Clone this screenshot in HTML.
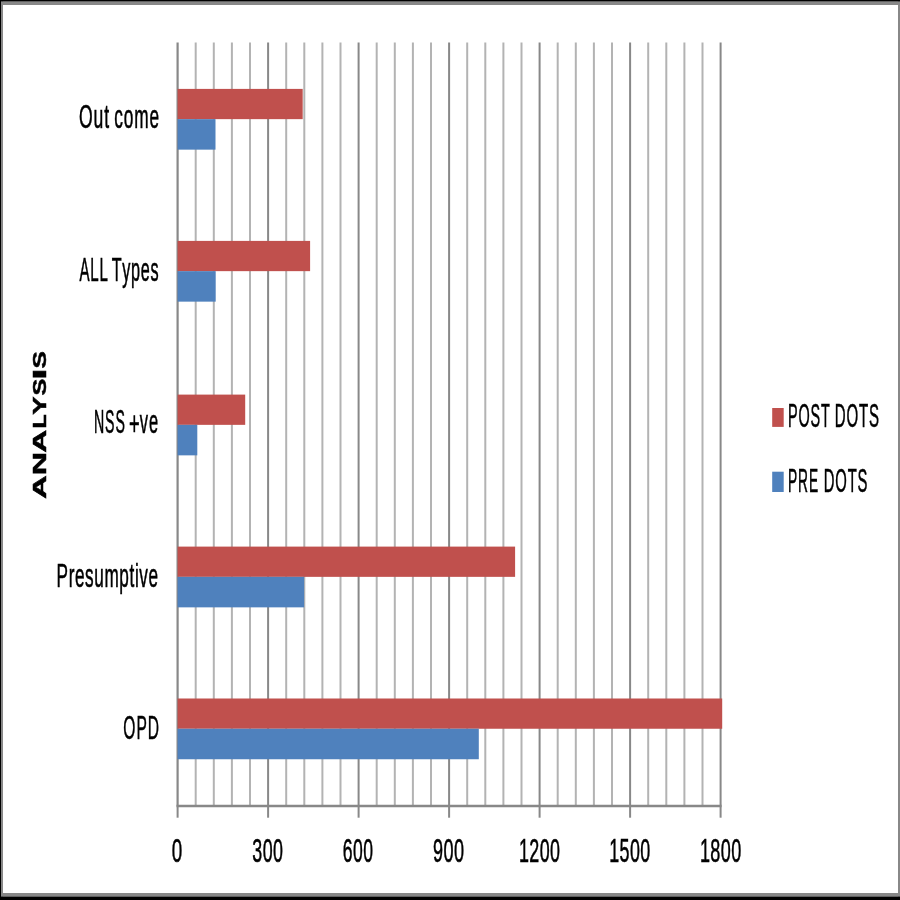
<!DOCTYPE html>
<html><head><meta charset="utf-8"><style>
html,body{margin:0;padding:0;background:#fff;width:900px;height:900px;overflow:hidden}
svg{display:block;will-change:transform}
text{font-family:"Liberation Sans",sans-serif;fill:#000;stroke:#000;stroke-width:0.6px;font-kerning:none}
</style></head><body>
<svg width="900" height="900" viewBox="0 0 900 900">
<rect x="0" y="0" width="900" height="900" fill="#fff"/>
<line x1="195.70" y1="42.5" x2="195.70" y2="806.0" stroke="#b3b3b3" stroke-width="2"/>
<line x1="213.80" y1="42.5" x2="213.80" y2="806.0" stroke="#b3b3b3" stroke-width="2"/>
<line x1="231.90" y1="42.5" x2="231.90" y2="806.0" stroke="#b3b3b3" stroke-width="2"/>
<line x1="250.00" y1="42.5" x2="250.00" y2="806.0" stroke="#b3b3b3" stroke-width="2"/>
<line x1="268.10" y1="42.5" x2="268.10" y2="806.0" stroke="#888" stroke-width="2"/>
<line x1="286.20" y1="42.5" x2="286.20" y2="806.0" stroke="#b3b3b3" stroke-width="2"/>
<line x1="304.30" y1="42.5" x2="304.30" y2="806.0" stroke="#b3b3b3" stroke-width="2"/>
<line x1="322.40" y1="42.5" x2="322.40" y2="806.0" stroke="#b3b3b3" stroke-width="2"/>
<line x1="340.50" y1="42.5" x2="340.50" y2="806.0" stroke="#b3b3b3" stroke-width="2"/>
<line x1="358.60" y1="42.5" x2="358.60" y2="806.0" stroke="#888" stroke-width="2"/>
<line x1="376.70" y1="42.5" x2="376.70" y2="806.0" stroke="#b3b3b3" stroke-width="2"/>
<line x1="394.80" y1="42.5" x2="394.80" y2="806.0" stroke="#b3b3b3" stroke-width="2"/>
<line x1="412.90" y1="42.5" x2="412.90" y2="806.0" stroke="#b3b3b3" stroke-width="2"/>
<line x1="431.00" y1="42.5" x2="431.00" y2="806.0" stroke="#b3b3b3" stroke-width="2"/>
<line x1="449.10" y1="42.5" x2="449.10" y2="806.0" stroke="#888" stroke-width="2"/>
<line x1="467.20" y1="42.5" x2="467.20" y2="806.0" stroke="#b3b3b3" stroke-width="2"/>
<line x1="485.30" y1="42.5" x2="485.30" y2="806.0" stroke="#b3b3b3" stroke-width="2"/>
<line x1="503.40" y1="42.5" x2="503.40" y2="806.0" stroke="#b3b3b3" stroke-width="2"/>
<line x1="521.50" y1="42.5" x2="521.50" y2="806.0" stroke="#b3b3b3" stroke-width="2"/>
<line x1="539.60" y1="42.5" x2="539.60" y2="806.0" stroke="#888" stroke-width="2"/>
<line x1="557.70" y1="42.5" x2="557.70" y2="806.0" stroke="#b3b3b3" stroke-width="2"/>
<line x1="575.80" y1="42.5" x2="575.80" y2="806.0" stroke="#b3b3b3" stroke-width="2"/>
<line x1="593.90" y1="42.5" x2="593.90" y2="806.0" stroke="#b3b3b3" stroke-width="2"/>
<line x1="612.00" y1="42.5" x2="612.00" y2="806.0" stroke="#b3b3b3" stroke-width="2"/>
<line x1="630.10" y1="42.5" x2="630.10" y2="806.0" stroke="#888" stroke-width="2"/>
<line x1="648.20" y1="42.5" x2="648.20" y2="806.0" stroke="#b3b3b3" stroke-width="2"/>
<line x1="666.30" y1="42.5" x2="666.30" y2="806.0" stroke="#b3b3b3" stroke-width="2"/>
<line x1="684.40" y1="42.5" x2="684.40" y2="806.0" stroke="#b3b3b3" stroke-width="2"/>
<line x1="702.50" y1="42.5" x2="702.50" y2="806.0" stroke="#b3b3b3" stroke-width="2"/>
<line x1="720.60" y1="42.5" x2="720.60" y2="806.0" stroke="#888" stroke-width="2"/>
<line x1="177.6" y1="42.5" x2="177.6" y2="806.0" stroke="#888" stroke-width="2.2"/>
<line x1="176.5" y1="806.0" x2="721.6" y2="806.0" stroke="#888" stroke-width="2.6"/>
<line x1="177.60" y1="806.0" x2="177.60" y2="817.7" stroke="#888" stroke-width="2"/>
<line x1="268.10" y1="806.0" x2="268.10" y2="817.7" stroke="#888" stroke-width="2"/>
<line x1="358.60" y1="806.0" x2="358.60" y2="817.7" stroke="#888" stroke-width="2"/>
<line x1="449.10" y1="806.0" x2="449.10" y2="817.7" stroke="#888" stroke-width="2"/>
<line x1="539.60" y1="806.0" x2="539.60" y2="817.7" stroke="#888" stroke-width="2"/>
<line x1="630.10" y1="806.0" x2="630.10" y2="817.7" stroke="#888" stroke-width="2"/>
<line x1="720.60" y1="806.0" x2="720.60" y2="817.7" stroke="#888" stroke-width="2"/>
<rect x="177.6" y="88.90" width="125.10" height="30.25" fill="#C0504D"/>
<rect x="177.6" y="119.15" width="37.90" height="30.5" fill="#4F81BD"/>
<rect x="177.6" y="240.90" width="132.50" height="30.25" fill="#C0504D"/>
<rect x="177.6" y="271.15" width="38.10" height="30.5" fill="#4F81BD"/>
<rect x="177.6" y="394.60" width="67.60" height="30.25" fill="#C0504D"/>
<rect x="177.6" y="424.85" width="19.70" height="30.5" fill="#4F81BD"/>
<rect x="177.6" y="546.60" width="337.50" height="30.25" fill="#C0504D"/>
<rect x="177.6" y="576.85" width="126.50" height="30.5" fill="#4F81BD"/>
<rect x="177.6" y="698.50" width="544.60" height="30.25" fill="#C0504D"/>
<rect x="177.6" y="728.75" width="301.20" height="30.5" fill="#4F81BD"/>
<text transform="translate(78.97,127.80) scale(0.5228,1)" font-size="33.6" textLength="57.50" lengthAdjust="spacing">Out</text>
<text transform="translate(114.27,127.80) scale(0.5136,1)" font-size="33.6" textLength="87.22" lengthAdjust="spacing">come</text>
<text transform="translate(79.47,281.10) scale(0.4491,1)" font-size="33.6" textLength="63.53" lengthAdjust="spacing">ALL</text>
<text transform="translate(111.64,281.10) scale(0.4830,1)" font-size="33.6" textLength="97.21" lengthAdjust="spacing">Types</text>
<text transform="translate(94.04,433.30) scale(0.4208,1)" font-size="33.6" textLength="73.22" lengthAdjust="spacing">NSS</text>
<text transform="translate(139.74,433.30) scale(0.4911,1)" font-size="33.6" textLength="37.65" lengthAdjust="spacing">ve</text>
<text transform="translate(56.59,587.00) scale(0.5115,1)" font-size="33.6" textLength="198.38" lengthAdjust="spacing">Presumptive</text>
<text transform="translate(123.26,739.30) scale(0.4632,1)" font-size="33.6" textLength="77.25" lengthAdjust="spacing">OPD</text>
<text transform="translate(129.01,434.60) scale(0.5452,1)" font-size="33.6" textLength="19.62" lengthAdjust="spacing">+</text>
<text transform="translate(171.86,862.20) scale(0.5603,1)" font-size="33.6" textLength="18.69" lengthAdjust="spacing">0</text>
<text transform="translate(252.32,862.20) scale(0.5316,1)" font-size="33.6" textLength="57.71" lengthAdjust="spacing">300</text>
<text transform="translate(342.81,862.20) scale(0.5230,1)" font-size="33.6" textLength="57.70" lengthAdjust="spacing">600</text>
<text transform="translate(433.05,862.20) scale(0.5382,1)" font-size="33.6" textLength="57.70" lengthAdjust="spacing">900</text>
<text transform="translate(519.04,862.20) scale(0.5324,1)" font-size="33.6" textLength="76.94" lengthAdjust="spacing">1200</text>
<text transform="translate(609.24,862.20) scale(0.5324,1)" font-size="33.6" textLength="76.94" lengthAdjust="spacing">1500</text>
<text transform="translate(699.93,862.20) scale(0.5365,1)" font-size="33.6" textLength="76.94" lengthAdjust="spacing">1800</text>
<rect x="772.2" y="408" width="11.5" height="18.9" fill="#C0504D"/>
<rect x="772.2" y="471.7" width="11.5" height="20.3" fill="#4F81BD"/>
<text transform="translate(788.02,426.80) scale(0.4296,1)" font-size="33.6" textLength="97.10" lengthAdjust="spacing">POST</text>
<text transform="translate(834.77,426.80) scale(0.4476,1)" font-size="33.6" textLength="99.02" lengthAdjust="spacing">DOTS</text>
<text transform="translate(788.07,491.60) scale(0.4100,1)" font-size="33.6" textLength="73.23" lengthAdjust="spacing">PRE</text>
<text transform="translate(823.78,491.60) scale(0.4413,1)" font-size="33.6" textLength="99.02" lengthAdjust="spacing">DOTS</text>
<text transform="translate(46.0,499.12) rotate(-90)" font-size="18.9" font-weight="bold" textLength="23.68" lengthAdjust="spacingAndGlyphs" style="stroke-width:0.5px">A</text>
<text transform="translate(46.0,475.16) rotate(-90)" font-size="18.9" font-weight="bold" textLength="23.34" lengthAdjust="spacingAndGlyphs" style="stroke-width:0.5px">N</text>
<text transform="translate(46.0,452.80) rotate(-90)" font-size="18.9" font-weight="bold" textLength="23.14" lengthAdjust="spacingAndGlyphs" style="stroke-width:0.5px">A</text>
<text transform="translate(46.0,428.56) rotate(-90)" font-size="18.9" font-weight="bold" textLength="14.28" lengthAdjust="spacingAndGlyphs" style="stroke-width:0.5px">L</text>
<text transform="translate(46.0,414.77) rotate(-90)" font-size="18.9" font-weight="bold" textLength="18.21" lengthAdjust="spacingAndGlyphs" style="stroke-width:0.5px">Y</text>
<text transform="translate(46.0,395.53) rotate(-90)" font-size="18.9" font-weight="bold" textLength="16.81" lengthAdjust="spacingAndGlyphs" style="stroke-width:0.5px">S</text>
<text transform="translate(46.0,379.69) rotate(-90)" font-size="18.9" font-weight="bold" textLength="11.19" lengthAdjust="spacingAndGlyphs" style="stroke-width:0.5px">I</text>
<text transform="translate(46.0,368.45) rotate(-90)" font-size="18.9" font-weight="bold" textLength="17.37" lengthAdjust="spacingAndGlyphs" style="stroke-width:0.5px">S</text>
<rect x="0" y="1.5" width="900" height="3.5" fill="#888"/>
<rect x="1" y="1.5" width="2" height="895" fill="#888"/>
<rect x="0" y="893" width="900" height="3.5" fill="#888"/>
<rect x="898" y="1.5" width="2" height="895" fill="#888"/>
<rect x="0" y="0" width="900" height="1.5" fill="#000"/>
<rect x="0" y="896.5" width="900" height="3.5" fill="#000"/>
<rect x="0" y="0" width="1" height="900" fill="#000"/>
</svg>
</body></html>
